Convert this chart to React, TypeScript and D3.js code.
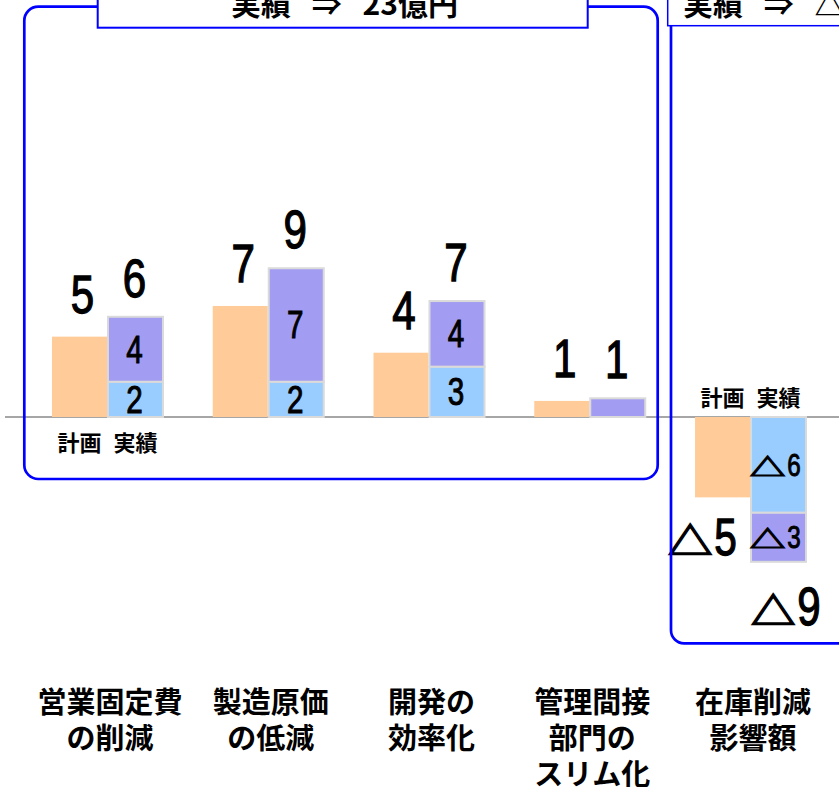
import React from "react";
import * as d3 from "d3";

const categoryLines: string[][] = [
  ["営業固定費", "の削減"],
  ["製造原価", "の低減"],
  ["開発の", "効率化"],
  ["管理間接", "部門の", "スリム化"],
  ["在庫削減", "影響額"],
];
const seriesNames = ["計画", "実績"];
const planValues = [4.9, 6.77, 3.92, 0.98, -4.9];
const actualBase = [2.15, 2.15, 3.07, 0, -5.84];
const actualTop = [3.96, 6.92, 4.0, 1.14, -2.99];
const planLabels = ["5", "7", "4", "1", "5"];
const totalLabels = ["6", "9", "7", "1", "9"];
const baseLabels = ["2", "2", "3", "", "6"];
const topLabels = ["4", "7", "4", "", "3"];
const panelTitles = ["実績 ⇒ 23億円", "実績 ⇒ △9億円"];

const W = 839;
const H = 787;
const CJK = "'Noto Sans CJK JP', sans-serif";
const NUM = "'Liberation Sans', Arial, sans-serif";
const C_PLAN = "#FFCC99";
const C_BASE = "#99CCFF";
const C_TOP = "#A29DF3";
const BLUE = "#0000FF";

function Num({ x, y, size, text }: { x: number; y: number; size: number; text: string }) {
  return (
    <text
      transform={`translate(${x},${y}) scale(0.78,1)`}
      textAnchor="middle"
      fontFamily={NUM}
      fontSize={size}
      fill="#000"
      stroke="#000"
      strokeWidth={size > 45 ? 1.3 : 1}
    >
      {text}
    </text>
  );
}

function Delta({
  x, y, size, text, triSize, sx, sy,
}: { x: number; y: number; size: number; text: string; triSize: number; sx: number; sy: number }) {
  return (
    <g transform={`translate(${x},${y})`}>
      <text
        transform={`translate(-1,0) scale(${sx},${sy})`}
        textAnchor="end"
        fontFamily={CJK}
        fontWeight={700}
        fontSize={triSize}
        fill="#000"
        stroke="#000"
        strokeWidth={1.6}
      >
        △
      </text>
      <text
        transform="scale(0.78,1)"
        textAnchor="start"
        x={1}
        fontFamily={NUM}
        fontSize={size}
        fill="#000"
        stroke="#000"
        strokeWidth={size > 45 ? 1.3 : 1}
      >
        {text}
      </text>
    </g>
  );
}

export default function App() {
  const cats = categoryLines.map((l) => l.join(""));
  const x = d3.scaleBand<string>().domain(cats).range([26.6, 830.4]).padding(0);
  const y = d3.scaleLinear().domain([0, 1]).range([417, 400.6]);
  const planW = 55;
  const actW = 57;
  const y0 = y(0);

  const bars: JSX.Element[] = [];
  const labels: JSX.Element[] = [];

  cats.forEach((c, i) => {
    const cx = (x(c) as number) + x.bandwidth() / 2;
    const pv = planValues[i];
    const b = actualBase[i];
    const t = actualTop[i];
    const total = b + t;
    bars.push(
      <rect key={`p${i}`} x={cx - planW} width={planW} y={Math.min(y(pv), y0)} height={Math.abs(y(pv) - y0)} fill={C_PLAN} />
    );
    if (b !== 0)
      bars.push(
        <rect key={`b${i}`} x={cx + 1} width={actW - 2} y={Math.min(y(b), y0)} height={Math.abs(y(b) - y0)} fill={C_BASE} stroke="#DADADA" strokeWidth={2} />
      );
    bars.push(
      <rect key={`t${i}`} x={cx + 1} width={actW - 2} y={Math.min(y(total), y(b))} height={Math.abs(y(total) - y(b))} fill={C_TOP} stroke="#DADADA" strokeWidth={2} />
    );
    const pc = cx - planW / 2;
    const ac = cx + actW / 2;
    if (pv >= 0) {
      labels.push(<Num key={`pl${i}`} x={pc + 3} y={y(pv) - 24} size={54} text={planLabels[i]} />);
      labels.push(<Num key={`tl${i}`} x={ac - 1} y={y(total) - 20} size={54} text={totalLabels[i]} />);
      if (baseLabels[i])
        labels.push(<Num key={`bl${i}`} x={ac - 1} y={(y(b) + y0) / 2 + 13.5} size={38} text={baseLabels[i]} />);
      if (topLabels[i])
        labels.push(<Num key={`ol${i}`} x={ac - 1} y={(y(b) + y(total)) / 2 + 13.5} size={38} text={topLabels[i]} />);
    } else {
      labels.push(<Delta key={`pl${i}`} x={pc - 9} y={y(pv) + 58} size={52} triSize={44} sx={1.02} sy={0.85} text={planLabels[i]} />);
      labels.push(<Delta key={`tl${i}`} x={ac + 18} y={y(total) + 63} size={54} triSize={44} sx={1.02} sy={0.85} text={totalLabels[i]} />);
      labels.push(<Delta key={`bl${i}`} x={ac + 8} y={(y(b) + y0) / 2 + 11} size={31} triSize={34} sx={1.05} sy={0.7} text={baseLabels[i]} />);
      labels.push(<Delta key={`ol${i}`} x={ac + 8} y={(y(b) + y(total)) / 2 + 11} size={31} triSize={34} sx={1.05} sy={0.7} text={topLabels[i]} />);
    }
  });

  const c0 = (x(cats[0]) as number) + x.bandwidth() / 2;
  const c4 = (x(cats[4]) as number) + x.bandwidth() / 2;

  return (
    <svg width={W} height={H} style={{ position: "absolute", left: 0, top: 0, background: "#fff" }}>
      <rect x={0} y={0} width={W} height={H} fill="#fff" />
      <line x1={5} x2={W} y1={y0} y2={y0} stroke="#A6A6A6" strokeWidth={2} />
      {bars}
      {labels}
      <text x={c0 - planW / 2} y={y0 + 34} textAnchor="middle" fontFamily={CJK} fontWeight={700} fontSize={22}>{seriesNames[0]}</text>
      <text x={c0 + actW / 2} y={y0 + 34} textAnchor="middle" fontFamily={CJK} fontWeight={700} fontSize={22}>{seriesNames[1]}</text>
      <text x={c4 - planW / 2} y={y0 - 11} textAnchor="middle" fontFamily={CJK} fontWeight={700} fontSize={22}>{seriesNames[0]}</text>
      <text x={c4 + actW / 2} y={y0 - 11} textAnchor="middle" fontFamily={CJK} fontWeight={700} fontSize={22}>{seriesNames[1]}</text>
      <rect x={24.3} y={6.7} width={633.4} height={472.3} rx={14} fill="none" stroke={BLUE} strokeWidth={2.7} />
      <rect x={97.7} y={-20} width={490} height={47.7} fill="#fff" stroke={BLUE} strokeWidth={2} />
      <text x={231} y={14.5} fontFamily={CJK} fontWeight={700} fontSize={30} style={{ whiteSpace: "pre", wordSpacing: "14px" }}>{panelTitles[0]}</text>
      <rect x={671} y={6.7} width={300} height={636.6} rx={13} fill="none" stroke={BLUE} strokeWidth={2.7} />
      <rect x={667.7} y={-20} width={300} height={45.7} fill="#fff" stroke={BLUE} strokeWidth={1.5} />
      <text x={683} y={14.5} fontFamily={CJK} fontWeight={700} fontSize={30} style={{ whiteSpace: "pre", wordSpacing: "14px" }}>{panelTitles[1]}</text>
      {categoryLines.map((lines, i) => {
        const cx = (x(cats[i]) as number) + x.bandwidth() / 2 + 3;
        return (
          <text key={`c${i}`} textAnchor="middle" fontFamily={CJK} fontWeight={700} fontSize={29}>
            {lines.map((ln, j) => (
              <tspan key={j} x={cx} y={713 + j * 36}>{ln}</tspan>
            ))}
          </text>
        );
      })}
    </svg>
  );
}
